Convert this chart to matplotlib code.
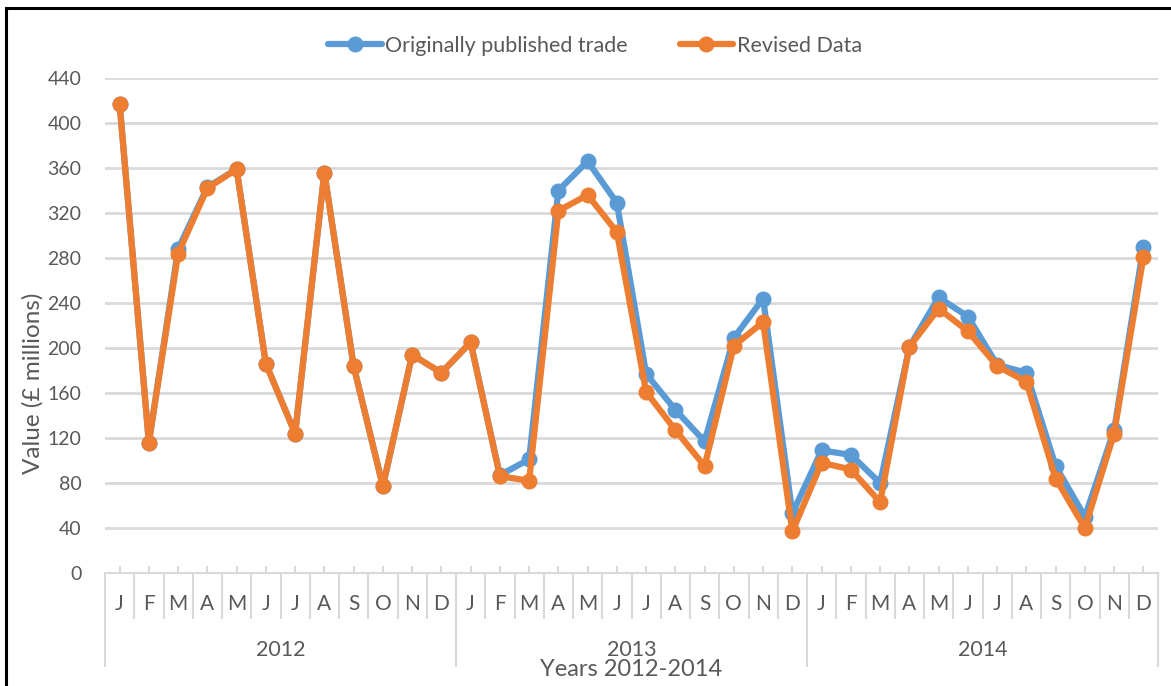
import matplotlib
matplotlib.use('Agg')
import matplotlib.pyplot as plt
from matplotlib.patches import Rectangle
import numpy as np

plt.rcParams['font.family'] = ['Lato', 'DejaVu Sans']

# monthly trade values, Jan 2012 - Dec 2014 (GBP millions)
months = ['J', 'F', 'M', 'A', 'M', 'J', 'J', 'A', 'S', 'O', 'N', 'D'] * 3
years = ['2012', '2013', '2014']
original = [417, 116, 288, 343, 359, 186, 124, 356, 184, 77, 194, 178,
            205, 87, 101, 340, 366, 329, 177, 145, 117, 209, 244, 53,
            109, 105, 80, 201, 245, 228, 185, 178, 95, 50, 127, 290]
revised = [417, 116, 284, 342, 359, 186, 124, 356, 184, 77, 194, 178,
           205, 86, 82, 322, 336, 303, 161, 127, 95, 202, 223, 37,
           98, 92, 63, 201, 235, 215, 184, 170, 84, 40, 124, 281]

blue = '#5B9BD5'
orange = '#ED7D31'
grid_col = '#D9D9D9'
txt = '#595959'

fig = plt.figure(figsize=(11.71, 6.86), dpi=100)
ax = fig.add_axes([105/1171, 1 - 573/686, (1158 - 105)/1171, (573 - 78)/686])

x = np.arange(len(months))
ax.plot(x, original, color=blue, lw=4.5, marker='o', ms=10.5,
        label='Originally published trade', solid_capstyle='round', zorder=3)
ax.plot(x, revised, color=orange, lw=4.5, marker='o', ms=10.5,
        label='Revised Data', solid_capstyle='round', zorder=4)

ax.set_xlim(-0.5, len(months) - 0.5)
ax.set_ylim(0, 440)
ax.set_yticks(np.arange(0, 441, 40))
ax.yaxis.grid(True, color=grid_col, lw=2)
ax.set_axisbelow(True)
for s in ['left', 'right', 'top']:
    ax.spines[s].set_visible(False)
ax.spines['bottom'].set_color(grid_col)
ax.spines['bottom'].set_linewidth(1.5)
ax.tick_params(axis='y', length=0, pad=17, labelsize=14, labelcolor=txt)
ax.set_xticks(x)
ax.set_xticklabels([])
ax.tick_params(axis='x', direction='in', length=5, width=1.5, color=grid_col)

# two-level category axis: months, then years
tr = ax.get_xaxis_transform()
h = 495.0
for i, m in enumerate(months):
    ax.text(i, -31/h, m, transform=tr, ha='center', va='center',
            fontsize=15, color=txt)
for b in np.arange(-0.5, len(months), 1):
    if b % 12 == -0.5 % 12:
        y0 = -93/h
    else:
        y0 = -45/h
    ax.plot([b, b], [0, y0], transform=tr, color=grid_col, lw=1.5,
            clip_on=False)
for k, yr in enumerate(years):
    ax.text(12*k + 5.5, -77/h, yr, transform=tr, ha='center', va='center',
            fontsize=15.5, color=txt)

fig.text(631/1171, 1 - 670/686, 'Years 2012-2014', ha='center', va='center',
         fontsize=17, color=txt)
fig.text(33/1171, 1 - 383/686, 'Value (£ millions)', rotation=90,
         ha='center', va='center', fontsize=17.5, color=txt)

ax.legend(loc='center', bbox_to_anchor=(595/1171, 1 - 46/686),
          bbox_transform=fig.transFigure, ncol=2, frameon=False,
          fontsize=15.5, labelcolor=txt, handlelength=2.5, columnspacing=2.4,
          handletextpad=0.15)

# outer frame
fig.patches.append(Rectangle((6/1171, -0.05), 1.2, 1 - 8/686 + 0.05,
                             transform=fig.transFigure, fill=False,
                             edgecolor='black', lw=2.2))

fig.savefig('out.png', dpi=100)
